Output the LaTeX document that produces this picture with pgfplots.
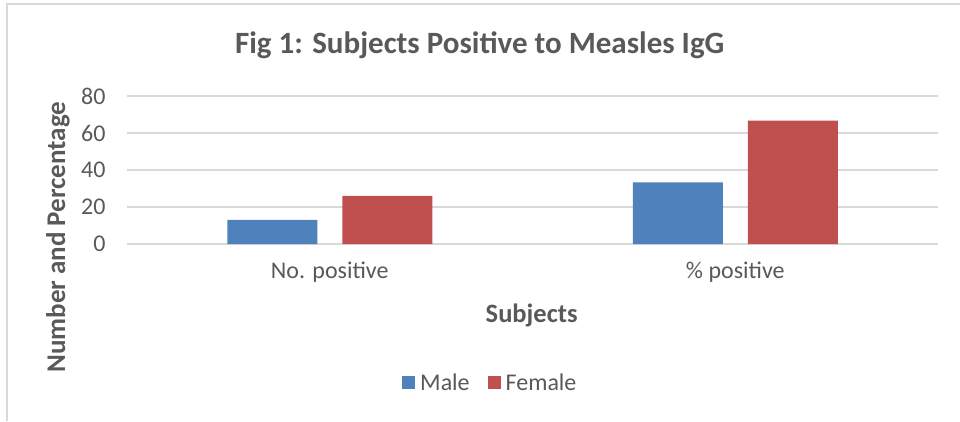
\documentclass[border=0pt]{standalone}
\usepackage{pgfplots}
\pgfplotsset{compat=1.18}
\usepackage{fontspec}
\setmainfont{Carlito}
\definecolor{malec}{HTML}{4F81BD}
\definecolor{femalec}{HTML}{C0504D}
\definecolor{txtc}{HTML}{595959}
\definecolor{gridc}{HTML}{D9D9D9}
\begin{document}
\begin{tikzpicture}
\path[use as bounding box] (0pt,0pt) rectangle (960pt,421pt);
\draw[gridc,line width=1.5pt] (7pt,0pt) -- (7pt,417pt) -- (960pt,417pt);
\begin{axis}[
  at={(127pt,177pt)}, anchor=south west,
  scale only axis, width=811pt, height=148pt,
  xmin=-0.5, xmax=1.5, ymin=0, ymax=80,
  ytick={0,20,40,60,80},
  xtick={0,1}, xticklabels={No. positive,\% positive},
  axis line style={draw=none},
  major tick length=0pt,
  ymajorgrids, xmajorgrids=false, grid style={draw=gridc,line width=1.2pt},
  ybar, bar width=90pt,
  tick label style={font=\fontsize{24}{28}\selectfont, text=txtc},
  /pgf/number format/assume math mode=true,
  yticklabel style={xshift=-18pt},
  xticklabel style={yshift=-14pt},
  title={Fig 1: Subjects Positive to Measles IgG},
  title style={at={(0.435,1.304)}, anchor=center, font=\bfseries\fontsize{31}{36}\selectfont, text=txtc},
  xlabel={Subjects},
  xlabel style={at={(0.499,-0.48)}, anchor=center, font=\bfseries\fontsize{26.5}{30}\selectfont, text=txtc},
  ylabel={Number and Percentage},
  ylabel style={at={(-0.085,0.047)}, anchor=center, font=\bfseries\fontsize{27}{30}\selectfont, text=txtc},
  legend style={at={(0.448,-0.939)}, anchor=center, draw=none, legend columns=2,
    font=\fontsize{24}{28}\selectfont, text=txtc,
    /tikz/every odd column/.append style={column sep=3pt},
    /tikz/every even column/.append style={column sep=16pt}},
  legend image code/.code={\fill[#1] (0pt,-6.5pt) rectangle (13pt,6.5pt);},
]
\addplot[fill=malec, draw=none, bar shift=-57.5pt] coordinates {(0,13) (1,33.3)};
\addplot[fill=femalec, draw=none, bar shift=57.5pt] coordinates {(0,26) (1,66.7)};
\legend{Male,Female}
\end{axis}
\end{tikzpicture}
\end{document}
